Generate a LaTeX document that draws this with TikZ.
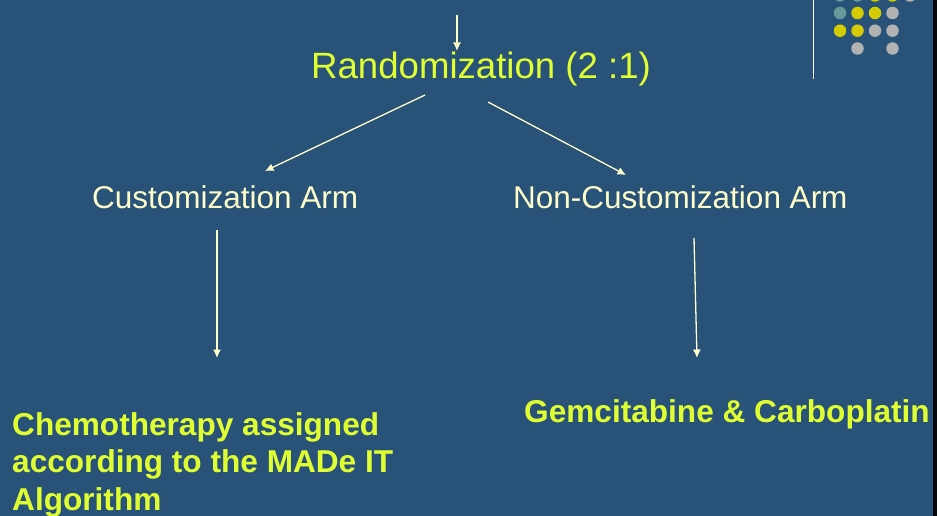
\documentclass[tikz,border=0pt]{standalone}
\usepackage{fontspec}
\setmainfont{Liberation Sans}
\usetikzlibrary{arrows.meta}
\definecolor{bg}{RGB}{41,82,121}
\definecolor{lime}{RGB}{224,255,51}
\definecolor{cream}{RGB}{255,255,204}
\definecolor{dteal}{RGB}{102,153,153}
\definecolor{dyel}{RGB}{212,204,0}
\definecolor{dgray}{RGB}{178,178,178}
\tikzset{
  lbl/.style={inner sep=0pt, anchor=base west, text=cream, font=\fontsize{31.5}{37.5}\selectfont},
  title/.style={inner sep=0pt, anchor=base west, text=lime, font=\fontsize{36.6}{44}\selectfont},
  bold/.style={inner sep=0pt, anchor=base west, text=lime, font=\fontsize{31.6}{37.5}\selectfont\bfseries, align=left},
  arr/.style={draw=cream, line width=1.3pt, -{Latex[length=8.5pt,width=8pt]}},
  dot/.style={circle, inner sep=0pt, minimum size=12.5pt},
}
\begin{document}
\begin{tikzpicture}[x=1pt,y=-1pt]
\fill[bg] (0,0) rectangle (937,516);
\useasboundingbox (0,0) rectangle (937,516);
\fill[black!90!bg] (933,0) rectangle (937,516);
% decoration
\draw[white, line width=1pt] (813,0) -- (813,79);
\foreach \x/\c in {840/dteal,857.5/dteal,875/dyel,892.5/dyel,910/dgray}
  \node[dot, fill=\c] at (\x,-4.5) {};
\foreach \x/\c in {840/dteal,857.5/dyel,875/dyel,892.5/dgray}
  \node[dot, fill=\c] at (\x,13) {};
\foreach \x/\c in {840/dyel,857.5/dyel,875/dgray,892.5/dgray}
  \node[dot, fill=\c] at (\x,30.7) {};
\foreach \x/\c in {857.5/dgray,892.5/dgray}
  \node[dot, fill=\c] at (\x,48.5) {};
% texts
\node[title] (rand) at (311,79) {Randomization (2 :1)};
\node[lbl] (cust) at (92,208) {Customization Arm};
\node[lbl] (non) at (513,208) {Non-Customization Arm};
\node[bold] (chemo) at (12,510) {Chemotherapy assigned\\according to the MADe IT\\Algorithm};
\node[bold] (gem) at (524,422) {Gemcitabine \& Carboplatin};
% connector ends
\coordinate (top) at (457,15);
\coordinate (randin) at (457,51);
\coordinate (randL) at (425,95);
\coordinate (custin) at (265,171);
\coordinate (randR) at (488,102);
\coordinate (nonin) at (626,175);
\coordinate (custout) at (217,230);
\coordinate (chemoin) at (217,358);
\coordinate (nonout) at (694,238);
\coordinate (gemin) at (697,358);
\draw[arr] (top) -- (randin);
\draw[arr] (randL) -- (custin);
\draw[arr] (randR) -- (nonin);
\draw[arr] (custout) -- (chemoin);
\draw[arr] (nonout) -- (gemin);
\end{tikzpicture}
\end{document}
